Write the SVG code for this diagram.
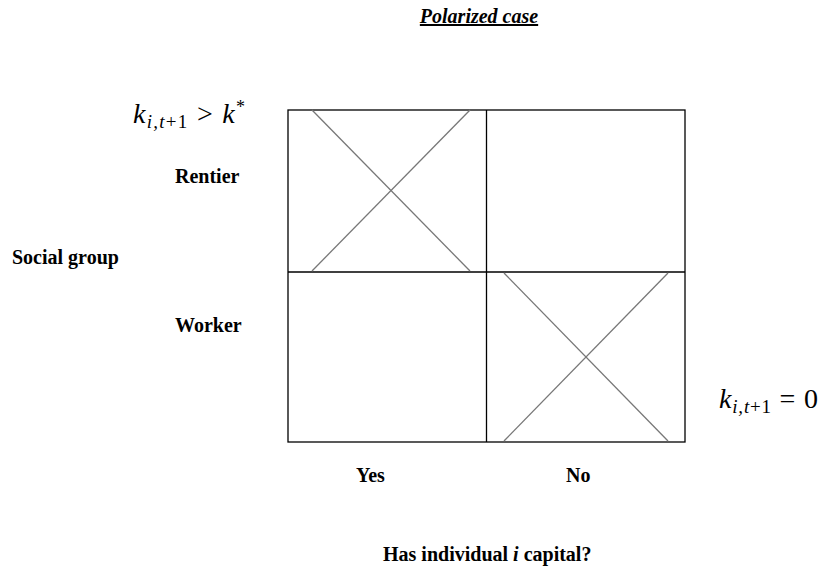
<svg xmlns="http://www.w3.org/2000/svg" width="821" height="570" viewBox="0 0 821 570">
<style>
.lbl{font-family:"Liberation Serif","Times New Roman",serif;font-weight:bold;font-size:20px;fill:#000}
.math{font-family:"Liberation Serif","DejaVu Serif",serif;font-size:28px;fill:#000}
.cell{fill:none;stroke:#000;stroke-width:1.3}
.cross{stroke:#777;stroke-width:1.3}
</style>
<rect width="821" height="570" fill="#fff"/>
<g id="title"><text class="lbl" x="479" y="23" text-anchor="middle" font-style="italic" text-decoration="underline" font-size="21.5">Polarized case</text></g>
<g id="grid">
<rect class="cell" x="288" y="110" width="397" height="332"/>
<line class="cell" x1="486.5" y1="110" x2="486.5" y2="442"/>
<line class="cell" x1="288" y1="272" x2="685" y2="272"/>
</g>
<g id="connectors">
<line class="cross" x1="312" y1="110" x2="470" y2="271"/>
<line class="cross" x1="470" y1="110" x2="312" y2="271"/>
<line class="cross" x1="504" y1="273" x2="668" y2="441"/>
<line class="cross" x1="668" y1="273" x2="504" y2="441"/>
</g>
<g id="math-top"><text class="math" x="133" y="123" textLength="112" lengthAdjust="spacing"><tspan font-style="italic">k</tspan><tspan font-style="italic" font-size="19" dy="5">i,t</tspan><tspan font-size="19">+1</tspan><tspan dy="-5"> &gt; </tspan><tspan font-style="italic">k</tspan><tspan font-size="18" dy="-10">*</tspan></text></g>
<g id="math-bottom"><text class="math" x="719" y="408" textLength="99" lengthAdjust="spacing"><tspan font-style="italic">k</tspan><tspan font-style="italic" font-size="19" dy="5">i,t</tspan><tspan font-size="19">+1</tspan><tspan dy="-5"> = 0</tspan></text></g>
<g id="rentier"><text class="lbl" x="175" y="183">Rentier</text></g>
<g id="social"><text class="lbl" x="12" y="264">Social group</text></g>
<g id="worker"><text class="lbl" x="175" y="332">Worker</text></g>
<g id="yes"><text class="lbl" x="356" y="482">Yes</text></g>
<g id="no"><text class="lbl" x="566" y="482">No</text></g>
<g id="axis"><text class="lbl" x="383" y="561">Has individual <tspan font-style="italic">i</tspan> capital?</text></g>
</svg>
